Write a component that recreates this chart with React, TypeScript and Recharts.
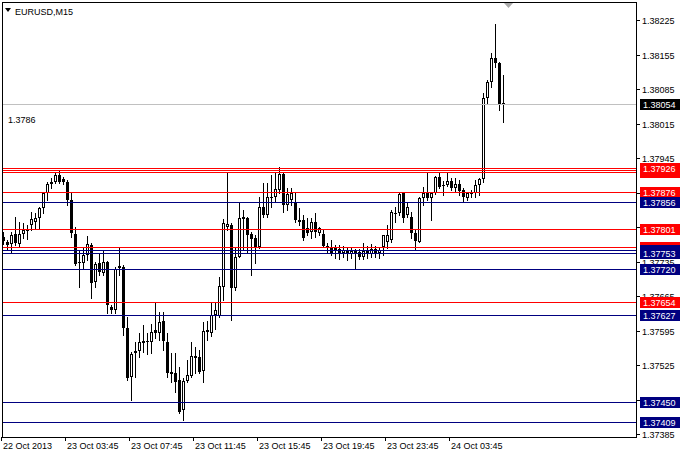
import { ComposedChart, Bar, XAxis, YAxis, ReferenceLine } from 'recharts'

// EURUSD M15 candles, 22 Oct 23:45 .. 24 Oct 07:00
const OPEN = [
  1.37785, 1.37775, 1.3777, 1.37791, 1.3777, 1.37791, 1.37797, 1.37809, 1.37815, 1.37823,
  1.37844, 1.37874, 1.37892, 1.37896, 1.3791, 1.37902, 1.37896, 1.3786, 1.37791, 1.37732,
  1.37732, 1.37748, 1.37768, 1.37693, 1.37732, 1.37712, 1.37734, 1.37643, 1.37637, 1.37722,
  1.37724, 1.376, 1.37501, 1.37549, 1.37553, 1.37574, 1.37572, 1.37572, 1.37596, 1.3759,
  1.37614, 1.37572, 1.37507, 1.37509, 1.37495, 1.37434, 1.37493, 1.37503, 1.37539, 1.37541,
  1.37513, 1.37592, 1.3759, 1.37626, 1.37624, 1.37683, 1.37805, 1.37809, 1.37681, 1.37744,
  1.37825, 1.37823, 1.37791, 1.37783, 1.37764, 1.37846, 1.37829, 1.37864, 1.37866, 1.3788,
  1.37912, 1.3785, 1.3786, 1.37856, 1.37819, 1.37819, 1.37803, 1.37795, 1.37815, 1.37793,
  1.37791, 1.37766, 1.37764, 1.37758, 1.3776, 1.37752, 1.37758, 1.3775, 1.37756, 1.37754,
  1.37744, 1.37756, 1.3775, 1.3776, 1.37752, 1.37764, 1.37775, 1.37779, 1.37834, 1.37833,
  1.37874, 1.37829, 1.37825, 1.37793, 1.37775, 1.37864, 1.37874, 1.37864, 1.37874, 1.37906,
  1.37888, 1.3789, 1.37898, 1.37884, 1.37892, 1.3788, 1.37864, 1.37872, 1.37874, 1.3789,
  1.37902, 1.38067, 1.38099, 1.38148, 1.38138, 1.38056,
]
const HIGH = [
  1.37795, 1.37779, 1.37795, 1.37825, 1.37815, 1.37813, 1.37809, 1.37836, 1.37833, 1.37846,
  1.37876, 1.37896, 1.37904, 1.37914, 1.37921, 1.37906, 1.379, 1.37874, 1.37805, 1.37758,
  1.37762, 1.37787, 1.37773, 1.37734, 1.37752, 1.37758, 1.37736, 1.37647, 1.37724, 1.37762,
  1.37728, 1.37622, 1.37551, 1.37572, 1.3759, 1.37606, 1.3759, 1.37608, 1.37653, 1.37632,
  1.37632, 1.3759, 1.37549, 1.37549, 1.37521, 1.37499, 1.37535, 1.37572, 1.37561, 1.37555,
  1.37612, 1.37614, 1.37651, 1.37651, 1.37704, 1.37821, 1.37917, 1.37813, 1.37762, 1.37856,
  1.3784, 1.37825, 1.37795, 1.37789, 1.37866, 1.37894, 1.37894, 1.3791, 1.37914, 1.37927,
  1.37914, 1.37884, 1.37884, 1.37874, 1.37844, 1.37829, 1.37823, 1.37823, 1.37833, 1.37806,
  1.37799, 1.37773, 1.37779, 1.37768, 1.37768, 1.37766, 1.37764, 1.37762, 1.3776, 1.3776,
  1.37772, 1.37766, 1.3777, 1.37766, 1.37764, 1.37789, 1.37809, 1.3784, 1.37846, 1.37874,
  1.37876, 1.37854, 1.37836, 1.37799, 1.37866, 1.37886, 1.37914, 1.37876, 1.37908, 1.37914,
  1.37898, 1.37914, 1.37904, 1.37904, 1.379, 1.37884, 1.37876, 1.3788, 1.379, 1.37904,
  1.38077, 1.38103, 1.38158, 1.38217, 1.3814, 1.38113,
]
const LOW = [
  1.3777, 1.37758, 1.37754, 1.37768, 1.37764, 1.37783, 1.37781, 1.37799, 1.37803, 1.37803,
  1.37833, 1.3786, 1.37884, 1.37894, 1.37894, 1.37892, 1.3785, 1.37785, 1.37728, 1.37683,
  1.37722, 1.37738, 1.37661, 1.37683, 1.37708, 1.37708, 1.3763, 1.3763, 1.3763, 1.37708,
  1.37586, 1.37495, 1.37454, 1.37501, 1.37541, 1.37551, 1.37547, 1.37549, 1.3758, 1.37576,
  1.37555, 1.37501, 1.37491, 1.3747, 1.37428, 1.37413, 1.37491, 1.37501, 1.37509, 1.37509,
  1.37491, 1.37576, 1.37584, 1.37598, 1.37622, 1.37657, 1.37799, 1.37616, 1.37677, 1.37744,
  1.37758, 1.37754, 1.37708, 1.37732, 1.37762, 1.37825, 1.37825, 1.37846, 1.37856, 1.37874,
  1.37836, 1.3784, 1.3785, 1.37815, 1.37809, 1.37779, 1.37789, 1.37783, 1.37785, 1.37789,
  1.37764, 1.37752, 1.37748, 1.37742, 1.3774, 1.37744, 1.37738, 1.37742, 1.37722, 1.3774,
  1.3774, 1.37742, 1.37744, 1.37744, 1.37742, 1.37748, 1.37762, 1.37775, 1.37815, 1.37829,
  1.37815, 1.37825, 1.37783, 1.37758, 1.37775, 1.3785, 1.3786, 1.37819, 1.37872, 1.37884,
  1.3787, 1.37888, 1.3788, 1.37876, 1.3787, 1.37856, 1.3786, 1.37866, 1.37866, 1.3787,
  1.37896, 1.38057, 1.38089, 1.3813, 1.38043, 1.38018,
]
const CLOSE = [
  1.37777, 1.37768, 1.37789, 1.37773, 1.37791, 1.37799, 1.37802, 1.37821, 1.37823, 1.37844,
  1.37874, 1.37892, 1.37896, 1.3791, 1.37896, 1.37896, 1.3786, 1.37793, 1.3773, 1.37734,
  1.37748, 1.3777, 1.37691, 1.3773, 1.37714, 1.37734, 1.37647, 1.37637, 1.3772, 1.37726,
  1.376, 1.37499, 1.37547, 1.37553, 1.37572, 1.3757, 1.37574, 1.37592, 1.3759, 1.37612,
  1.37574, 1.37509, 1.37511, 1.37491, 1.3743, 1.37493, 1.37505, 1.37543, 1.37543, 1.37511,
  1.37594, 1.37596, 1.37626, 1.37637, 1.37685, 1.37813, 1.37811, 1.37681, 1.37744, 1.37823,
  1.37821, 1.37789, 1.37781, 1.37764, 1.37846, 1.37829, 1.37866, 1.37866, 1.37882, 1.37912,
  1.3785, 1.37872, 1.37874, 1.37819, 1.37815, 1.37783, 1.37793, 1.37815, 1.37795, 1.37803,
  1.37766, 1.37764, 1.37752, 1.37762, 1.37752, 1.37758, 1.3775, 1.37756, 1.37752, 1.37744,
  1.37756, 1.3775, 1.3776, 1.37752, 1.37758, 1.37789, 1.37789, 1.37836, 1.37832, 1.37872,
  1.37823, 1.37846, 1.37793, 1.37777, 1.37864, 1.37874, 1.37864, 1.37874, 1.37906, 1.37886,
  1.3789, 1.37898, 1.37884, 1.37892, 1.37878, 1.37866, 1.37874, 1.37874, 1.3789, 1.37902,
  1.38067, 1.38099, 1.38148, 1.38138, 1.38053, 1.38054,
]

const PRICE_TICKS = [
  1.38225, 1.38155, 1.38085, 1.38015, 1.37945, 1.37875, 1.37805,
  1.37735, 1.37665, 1.37595, 1.37525, 1.37455, 1.37385,
]
const TIME_TICKS = [
  '22 Oct 23:45', '23 Oct 03:45', '23 Oct 07:45', '23 Oct 11:45',
  '23 Oct 15:45', '23 Oct 19:45', '23 Oct 23:45', '24 Oct 03:45',
]
const FIRST_TICK_LABEL = '22 Oct 2013'

// horizontal levels; tags are painted in this order, so the last one of a cluster stays on top
const RED_LEVELS = [1.37654, 1.37764, 1.37801, 1.37876, 1.37916, 1.37921, 1.37926]
const BLUE_LEVELS = [1.37409, 1.3745, 1.37627, 1.3772, 1.37758, 1.37753, 1.37856]
const BID = 1.38054
const NOTE = '1.3786'
const SYMBOL = 'EURUSD,M15'

const FONT = '"Liberation Sans", Arial, sans-serif'
const RED = '#ff0000'
const NAVY = '#000080'

function barTime(i: number) {
  const m = 23 * 60 + 45 + 15 * i
  const day = 22 + Math.floor(m / 1440)
  const rest = m % 1440
  const hh = String(Math.floor(rest / 60)).padStart(2, '0')
  const mi = String(rest % 60).padStart(2, '0')
  return `${day} Oct ${hh}:${mi}`
}

const data = OPEN.map((o, i) => ({
  t: barTime(i),
  o,
  h: HIGH[i],
  l: LOW[i],
  c: CLOSE[i],
  range: [LOW[i], HIGH[i]],
}))

// plain price ticks first, then the coloured level tags on top of them
const AXIS_TICKS = [...PRICE_TICKS, BID, ...RED_LEVELS, ...BLUE_LEVELS]

function Candle(props: any) {
  const { x, y, width, height, payload } = props
  if (x == null || !payload) return null
  const { o, h, l, c } = payload
  const top = Math.min(y, y + height)
  const bot = Math.max(y, y + height)
  const span = h - l || 1e-9
  const py = (p: number) => top + ((h - p) / span) * (bot - top)
  const col = Math.floor(x + width / 2) - 1
  const cx = col + 0.5
  const bTop = Math.round(Math.min(py(o), py(c)))
  const bBot = Math.round(Math.max(py(o), py(c)))
  const wick = <line x1={cx} x2={cx} y1={Math.round(top)} y2={Math.round(bot) + 1} stroke="#000" />
  if (bBot - bTop <= 1) {
    return (
      <g>
        {wick}
        <rect x={col - 1} y={bTop} width={3} height={1} fill="#000" />
      </g>
    )
  }
  if (c >= o) {
    return (
      <g>
        {wick}
        <rect x={col - 0.5} y={bTop + 0.5} width={2} height={bBot - bTop - 1} fill="#fff" stroke="#000" />
      </g>
    )
  }
  return (
    <g>
      {wick}
      <rect x={col - 1} y={bTop} width={3} height={bBot - bTop} fill="#000" />
    </g>
  )
}

// horizontal level drawn on a whole pixel row
function LevelLine(props: any) {
  const { x1, x2, y1, stroke } = props
  if (x1 == null) return null
  const yy = Math.round(y1) + 0.5
  return <line x1={x1} x2={x2} y1={yy} y2={yy} stroke={stroke} strokeWidth={1} />
}

function PriceTick({ x, y, payload }: any) {
  const v = payload.value
  const yy = Math.round(y)
  const bg =
    v === BID ? '#000' : RED_LEVELS.includes(v) ? RED : BLUE_LEVELS.includes(v) ? NAVY : null
  if (bg) {
    return (
      <g>
        <rect x={x + 4} y={yy - 5} width={40} height={11} fill={bg} />
        <text x={x + 7} y={yy + 4} fill="#fff" fontSize={9} fontFamily={FONT}>
          {v.toFixed(5)}
        </text>
      </g>
    )
  }
  return (
    <g>
      <line x1={x} x2={x + 4} y1={yy + 0.5} y2={yy + 0.5} stroke="#000" />
      <text x={x + 6} y={yy + 4} fill="#000" fontSize={9} fontFamily={FONT}>
        {v.toFixed(5)}
      </text>
    </g>
  )
}

function TimeTick({ x, y, payload }: any) {
  const px = Math.floor(x)
  const label = payload.value === TIME_TICKS[0] ? FIRST_TICK_LABEL : payload.value
  return (
    <g>
      <line x1={px - 2.5} x2={px - 2.5} y1={y} y2={y + 4} stroke="#000" />
      <text x={px - 1} y={y + 12} fontSize={9} fontFamily={FONT} fill="#000">
        {label}
      </text>
    </g>
  )
}

export default function App() {
  return (
    <div style={{ position: 'absolute', left: 0, top: 0, width: 680, height: 455, background: '#fff' }}>
      <ComposedChart
        width={680}
        height={455}
        data={data}
        margin={{ top: 2, right: 0, bottom: 0, left: 2 }}
        barCategoryGap={0}
        barGap={0}
      >
        <XAxis
          dataKey="t"
          ticks={TIME_TICKS}
          interval={0}
          padding={{ left: 0, right: 130 }}
          height={18}
          axisLine={false}
          tickLine={false}
          tickSize={0}
          tickMargin={0}
          tick={<TimeTick />}
        />
        <YAxis
          orientation="right"
          width={44}
          domain={[1.37379, 1.38262]}
          allowDataOverflow
          ticks={AXIS_TICKS}
          interval={0}
          axisLine={false}
          tickLine={false}
          tickSize={0}
          tickMargin={0}
          tick={<PriceTick />}
        />
        <ReferenceLine y={BID} stroke="#c0c0c0" shape={<LevelLine />} />
        {RED_LEVELS.map((v) => (
          <ReferenceLine key={'r' + v} y={v} stroke={RED} shape={<LevelLine />} />
        ))}
        {BLUE_LEVELS.map((v) => (
          <ReferenceLine key={'b' + v} y={v} stroke={NAVY} shape={<LevelLine />} />
        ))}
        <Bar dataKey="range" shape={<Candle />} isAnimationActive={false} />
      </ComposedChart>
      <svg
        width={680}
        height={455}
        style={{ position: 'absolute', left: 0, top: 0, pointerEvents: 'none' }}
      >
        <rect x={2.5} y={2.5} width={634} height={435} fill="none" stroke="#000" shapeRendering="crispEdges" />
        <path d="M5 8 L11 8 L8 12 Z" fill="#000" />
        <text x={15} y={15} fontSize={9} fontFamily={FONT} fill="#000">
          {SYMBOL}
        </text>
        <text x={8} y={123} fontSize={9} fontFamily={FONT} fill="#000">
          {NOTE}
        </text>
        <path d="M504 3 L513 3 L508.5 8 Z" fill="#a9a9a9" />
      </svg>
    </div>
  )
}
